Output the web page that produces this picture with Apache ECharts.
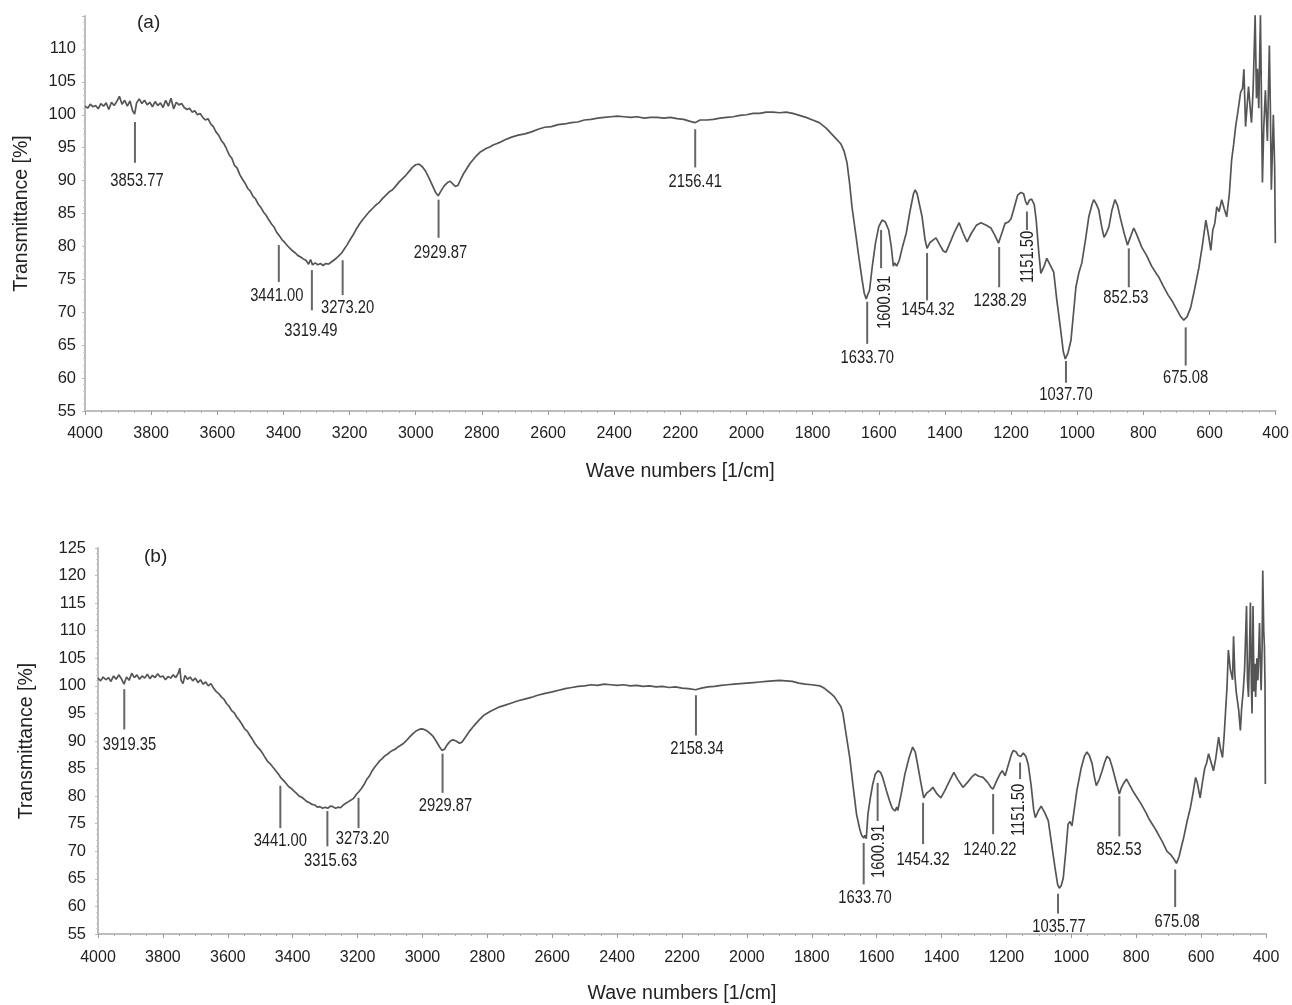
<!DOCTYPE html>
<html>
<head>
<meta charset="utf-8">
<script src="https://cdn.jsdelivr.net/npm/echarts@6/dist/echarts.min.js"></script>
<style>
html,body{margin:0;padding:0;background:#fff;}
#chart{width:1292px;height:1005px;}
</style>
</head>
<body>
<div id="chart"></div>
<script>
// ---------------- DATA ----------------
// Spectrum (a): [wavenumber, transmittance %]
const spectrumA = [
[4000,101.3],[3992,101.0],[3984,101.6],[3976,101.2],[3968,101.4],[3960,100.9],[3952,101.7],[3944,101.3],[3936,101.8],[3928,100.8],
[3920,101.9],[3912,101.4],[3904,102.0],[3896,102.8],[3888,101.6],[3880,102.2],[3872,101.3],[3864,102.1],[3856,100.6],[3850,100.1],
[3844,101.8],[3836,102.4],[3828,101.7],[3820,102.2],[3812,101.5],[3804,101.9],[3796,101.2],[3788,102.0],[3780,101.4],[3772,101.8],
[3764,101.1],[3756,102.2],[3748,101.3],[3740,102.5],[3732,100.9],[3724,101.9],[3716,101.5],[3708,101.7],[3700,101.1],[3692,100.8],
[3684,101.0],[3676,100.4],[3668,100.6],[3660,100.0],[3652,100.2],[3644,99.6],[3636,99.2],[3628,99.4],[3620,98.6],[3612,98.2],
[3604,97.4],[3596,96.9],[3588,96.1],[3580,95.6],[3572,94.8],[3564,93.9],[3556,93.4],[3548,92.3],[3540,91.9],[3532,90.9],
[3524,90.2],[3516,89.6],[3508,88.8],[3500,88.4],[3492,87.6],[3484,87.2],[3476,86.4],[3468,85.9],[3460,85.2],[3452,84.7],
[3444,84.0],[3436,83.4],[3428,82.9],[3420,82.1],[3412,81.6],[3404,81.0],[3396,80.6],[3388,80.1],[3380,79.7],[3372,79.3],
[3364,79.0],[3356,78.6],[3348,78.4],[3340,78.1],[3332,77.9],[3324,77.3],[3318,78.0],[3312,77.2],[3304,77.5],[3296,77.2],
[3288,77.4],[3280,77.1],[3272,77.4],[3264,77.3],[3256,77.6],[3248,77.9],[3240,78.2],[3232,78.6],[3224,79.0],[3216,79.6],
[3208,80.2],[3200,80.9],[3190,81.7],[3180,82.6],[3170,83.4],[3160,84.1],[3150,84.7],[3140,85.3],[3130,85.8],[3120,86.3],
[3110,86.7],[3100,87.3],[3090,87.8],[3080,88.3],[3070,88.6],[3060,89.2],[3050,89.8],[3040,90.3],[3030,90.8],[3020,91.4],
[3010,92.0],[3000,92.4],[2990,92.5],[2980,92.1],[2970,91.4],[2960,90.4],[2950,89.3],[2940,88.2],[2932,87.7],[2924,88.4],
[2914,89.2],[2904,89.7],[2896,89.9],[2888,89.5],[2880,89.1],[2872,89.3],[2864,90.2],[2856,91.0],[2846,91.8],[2836,92.6],
[2826,93.2],[2816,93.8],[2806,94.3],[2796,94.6],[2786,94.9],[2776,95.1],[2766,95.4],[2756,95.6],[2746,95.8],[2730,96.2],
[2710,96.6],[2690,96.9],[2670,97.1],[2650,97.4],[2630,97.8],[2610,98.1],[2590,98.2],[2570,98.5],[2550,98.6],[2530,98.8],
[2510,98.9],[2490,99.2],[2470,99.3],[2450,99.5],[2430,99.6],[2410,99.7],[2390,99.8],[2370,99.7],[2350,99.6],[2330,99.7],
[2310,99.5],[2290,99.6],[2270,99.6],[2250,99.5],[2230,99.6],[2210,99.4],[2190,99.3],[2170,99.0],[2156,98.8],[2140,99.2],
[2120,99.2],[2100,99.3],[2080,99.5],[2060,99.6],[2040,99.7],[2020,99.9],[2000,100.0],[1980,100.2],[1960,100.2],[1940,100.4],
[1920,100.4],[1900,100.3],[1880,100.4],[1860,100.2],[1840,99.9],[1820,99.6],[1800,99.2],[1780,98.8],[1760,98.0],[1745,97.2],
[1730,96.4],[1715,95.6],[1705,94.5],[1696,92.7],[1688,89.5],[1681,86.0],[1670,82.0],[1659,77.9],[1650,74.8],[1644,72.9],
[1638,72.0],[1634,72.6],[1628,73.3],[1620,76.8],[1610,80.5],[1600,83.0],[1590,84.0],[1580,83.7],[1570,82.5],[1562,79.9],
[1556,77.0],[1552,77.5],[1546,77.0],[1538,77.9],[1528,80.0],[1517,82.0],[1505,85.5],[1495,88.0],[1490,88.6],[1484,88.0],
[1469,84.5],[1460,81.0],[1454,79.7],[1445,80.6],[1435,81.0],[1427,81.3],[1415,80.2],[1405,79.3],[1397,79.1],[1385,80.5],
[1370,82.3],[1357,83.6],[1345,82.0],[1333,80.7],[1320,82.0],[1305,83.2],[1291,83.6],[1275,83.2],[1261,82.8],[1250,81.8],
[1238,80.5],[1228,82.0],[1218,83.5],[1208,83.7],[1200,84.2],[1190,86.0],[1180,87.8],[1170,88.2],[1162,88.0],[1156,86.8],
[1151,86.3],[1145,87.0],[1138,87.2],[1130,86.4],[1124,84.0],[1116,79.0],[1110,75.9],[1100,77.0],[1092,78.2],[1082,77.2],
[1071,76.1],[1062,72.0],[1051,67.7],[1042,64.0],[1036,62.9],[1028,63.8],[1019,65.7],[1010,70.5],[1004,73.8],[995,76.0],
[986,77.5],[975,81.0],[965,84.5],[955,86.4],[950,87.1],[942,86.4],[935,85.6],[926,83.0],[919,81.4],[912,82.0],
[904,83.0],[895,85.5],[886,87.1],[878,86.2],[868,84.0],[858,82.0],[848,80.2],[842,80.4],[835,82.0],[829,82.8],
[820,81.8],[805,79.9],[790,78.6],[775,77.0],[760,75.8],[753,75.3],[740,74.0],[725,72.6],[714,71.8],[700,70.5],
[688,69.4],[678,68.8],[668,69.3],[657,70.7],[645,73.5],[632,76.8],[622,80.0],[611,84.0],[604,82.0],[596,79.4],
[590,82.5],[584,83.5],[578,86.0],[571,85.3],[563,87.1],[556,85.8],[548,84.5],[540,88.0],[533,93.2],[527,95.5],
[521,98.2],[514,100.5],[506,103.4],[500,104.0],[496,106.9],[491,98.2],[486,101.6],[482,104.3],[477,101.0],[473,98.8],
[468,104.0],[462,115.2],[458,102.5],[455,107.0],[451,101.0],[446,115.2],[440,89.7],[436,98.0],[431,103.7],[425,96.0],
[419,110.5],[416,101.0],[413,88.6],[407,100.0],[403,92.0],[401,80.5]
];

// Spectrum (b): [wavenumber, transmittance %]
const spectrumB = [
[4000,101.4],[3992,100.9],[3984,101.6],[3976,101.1],[3968,101.5],[3960,100.8],[3952,101.8],[3944,101.2],[3936,102.0],[3928,101.3],
[3920,100.3],[3912,101.6],[3904,101.0],[3896,102.3],[3888,101.5],[3880,102.0],[3872,101.2],[3864,101.8],[3856,101.4],[3848,102.1],
[3840,101.3],[3832,101.9],[3824,101.5],[3816,102.2],[3808,101.6],[3800,101.8],[3792,101.1],[3784,101.7],[3776,101.4],[3768,102.0],
[3760,101.5],[3752,102.4],[3748,103.2],[3744,101.0],[3738,100.4],[3732,101.9],[3724,101.2],[3716,101.6],[3708,100.9],[3700,101.4],
[3692,100.6],[3684,101.1],[3676,100.3],[3668,100.7],[3660,100.0],[3652,100.4],[3644,99.6],[3636,99.0],[3628,98.6],[3620,98.0],
[3612,97.6],[3604,96.8],[3596,96.3],[3588,95.5],[3580,95.1],[3572,94.3],[3564,93.7],[3556,93.0],[3548,92.2],[3540,91.8],
[3532,91.0],[3524,90.3],[3516,89.5],[3508,88.9],[3500,88.4],[3492,87.7],[3484,86.9],[3476,86.2],[3468,85.8],[3460,85.2],
[3452,84.6],[3444,84.0],[3436,83.3],[3428,82.8],[3420,82.3],[3412,81.7],[3404,81.4],[3396,80.9],[3388,80.5],[3380,80.0],
[3372,79.8],[3364,79.4],[3356,79.0],[3348,78.8],[3340,78.5],[3332,78.4],[3324,78.0],[3316,78.1],[3308,77.8],[3300,78.0],
[3292,77.8],[3284,78.2],[3276,78.1],[3268,77.8],[3260,78.0],[3252,77.9],[3244,78.4],[3236,78.7],[3228,79.0],[3220,79.3],
[3212,79.6],[3204,80.3],[3196,80.8],[3188,81.4],[3180,82.1],[3172,83.0],[3164,83.6],[3156,84.5],[3148,85.2],[3140,85.8],
[3132,86.4],[3124,86.8],[3116,87.3],[3108,87.6],[3100,88.0],[3092,88.3],[3084,88.5],[3076,88.9],[3068,89.2],[3060,89.5],
[3049,90.1],[3040,90.7],[3030,91.3],[3020,91.8],[3010,92.1],[3003,92.2],[2995,92.1],[2985,91.8],[2975,91.3],[2968,90.9],
[2958,90.0],[2948,89.0],[2940,88.3],[2932,88.5],[2924,89.3],[2914,90.0],[2906,90.2],[2896,90.0],[2886,89.6],[2878,89.8],
[2866,90.8],[2856,91.7],[2845,92.5],[2835,93.2],[2822,94.0],[2812,94.6],[2802,95.0],[2790,95.4],[2776,95.8],[2762,96.2],
[2745,96.5],[2725,96.9],[2705,97.3],[2685,97.6],[2665,97.9],[2645,98.3],[2625,98.6],[2600,98.9],[2580,99.2],[2560,99.5],
[2540,99.7],[2520,99.9],[2500,100.0],[2480,100.2],[2460,100.1],[2440,100.3],[2420,100.2],[2400,100.1],[2380,100.2],[2360,100.0],
[2340,100.1],[2320,99.9],[2300,100.0],[2280,99.8],[2260,99.9],[2240,99.7],[2220,99.8],[2200,99.6],[2180,99.5],[2158,99.3],
[2140,99.6],[2120,99.8],[2100,99.9],[2080,100.1],[2060,100.2],[2040,100.3],[2020,100.4],[2000,100.5],[1980,100.6],[1960,100.7],
[1940,100.8],[1920,100.9],[1900,101.0],[1880,100.9],[1860,100.8],[1840,100.5],[1820,100.3],[1800,100.2],[1775,100.0],[1760,99.5],
[1745,98.8],[1730,98.0],[1720,97.1],[1710,96.2],[1704,95.0],[1695,91.5],[1683,87.0],[1672,81.5],[1662,76.7],[1652,74.0],
[1647,73.0],[1640,72.4],[1636,72.9],[1632,72.3],[1627,76.7],[1620,79.5],[1612,82.2],[1604,84.0],[1596,84.6],[1588,84.3],
[1581,83.3],[1570,81.0],[1560,79.1],[1552,77.8],[1544,77.3],[1538,78.0],[1535,77.4],[1524,80.5],[1513,84.0],[1500,87.0],
[1489,88.9],[1481,88.0],[1474,85.8],[1464,82.5],[1455,79.7],[1445,80.6],[1436,81.0],[1427,81.6],[1414,80.4],[1402,79.7],
[1390,81.0],[1375,82.8],[1362,84.3],[1350,83.0],[1334,81.6],[1320,82.5],[1305,83.6],[1297,84.0],[1285,83.6],[1272,83.4],
[1258,82.5],[1248,81.6],[1241,81.3],[1230,82.8],[1220,84.0],[1213,84.6],[1204,83.7],[1195,85.5],[1185,87.5],[1179,88.3],
[1170,88.0],[1164,87.4],[1156,87.2],[1148,87.8],[1140,87.2],[1133,85.8],[1124,82.0],[1116,77.5],[1111,76.1],[1102,77.3],
[1093,78.2],[1082,77.0],[1071,75.5],[1060,71.0],[1050,66.9],[1042,63.9],[1037,63.3],[1031,63.8],[1025,65.1],[1017,70.0],
[1010,74.9],[1004,75.4],[998,74.6],[990,78.0],[983,81.0],[970,85.0],[960,87.2],[952,88.0],[944,87.3],[936,85.9],
[929,83.5],[923,81.9],[914,83.0],[905,84.6],[897,86.2],[890,87.2],[882,86.8],[874,85.3],[863,82.8],[852,80.4],
[846,81.5],[838,82.4],[830,83.1],[820,82.0],[808,80.7],[797,79.7],[785,78.6],[770,77.0],[760,75.8],[747,74.6],
[735,73.4],[720,71.8],[705,70.0],[694,69.4],[684,68.6],[676,67.8],[668,69.0],[660,71.0],[654,72.4],[643,75.5],
[633,77.9],[625,80.5],[617,83.4],[612,82.5],[603,79.7],[596,82.5],[589,85.0],[583,86.0],[577,87.7],[570,86.3],
[562,84.6],[555,86.8],[546,90.7],[540,88.5],[534,87.0],[529,91.0],[525,95.0],[520,100.0],[516,106.5],[510,103.0],
[503,101.1],[500,109.0],[496,102.0],[492,99.0],[488,99.2],[484,95.5],[479,91.9],[475,96.0],[470,99.2],[466,103.0],
[460,114.5],[457,101.0],[454,98.0],[451,106.0],[448,115.1],[445,100.0],[443,95.0],[440,114.5],[437,99.0],[434,104.0],
[432,98.0],[428,105.0],[425,101.0],[420,111.4],[417,103.0],[415,99.2],[412,107.0],[410,120.9],[407,110.0],[405,107.4],
[403,100.0],[402,82.2]
];

// Peak annotations (a): label text, marker line [wavenumber, T top, T bottom], text anchor [wavenumber, T]
const peakLabelsA = ['3853.77','3441.00','3319.49','3273.20','2929.87','2156.41','1633.70','1600.91','1454.32','1238.29','1151.50','1037.70','852.53','675.08'];
const peakLinesA = [[3849,98.9,92.7],[3414,80.2,74.6],[3314,76.4,70.3],[3221,77.9,72.6],[2931,87.1,81.3],[2155,97.8,92.0],[1635,71.6,65.2],[1593,82.5,76.7],[1454,79.0,71.8],[1236,79.9,73.8],[1152,85.3,82.5],[1034,62.6,59.3],[844,79.7,73.8],[672,67.7,61.9]];
const peakTextA = [[3843,90.0],[3420,72.4],[3317,67.2],[3206,70.7],[2925,79.0],[2155,89.8],[1635,63.1],[1581,71.5],[1451,70.4],[1233,71.7],[1149,78.4],[1034,57.4],[853,72.1],[672,60.0]];

// Peak annotations (b)
const peakLabelsB = ['3919.35','3441.00','3315.63','3273.20','2929.87','2158.34','1633.70','1600.91','1454.32','1240.22','1151.50','1035.77','852.53','675.08'];
const peakLinesB = [[3919,99.4,92.1],[3438,81.9,74.2],[3293,77.3,70.9],[3197,79.7,74.2],[2938,87.7,80.6],[2157,98.3,91.0],[1640,71.5,64.0],[1597,82.4,75.5],[1457,78.8,71.3],[1241,80.4,73.1],[1158,86.1,83.1],[1041,62.3,58.7],[852,80.0,72.7],[680,66.7,59.9]];
const peakTextB = [[3903,89.2],[3438,71.8],[3283,68.2],[3185,72.2],[2929,78.2],[2154,88.6],[1636,61.6],[1593,70.0],[1457,68.5],[1251,70.2],[1161,77.5],[1038,56.3],[853,70.2],[674,57.2]];

const verticalLabels = ['1600.91', '1151.50'];
const panelTitles = ['(a)', '(b)'];
const xAxisTitle = 'Wave numbers [1/cm]';
const yAxisTitle = 'Transmittance [%]';

// ---------------- CHART ----------------
const FONT = "'Liberation Sans', Arial, sans-serif";
const TEXT = '#222';
const AXIS = '#bdbdbd';

const chart = echarts.init(document.getElementById('chart'), null, {renderer: 'canvas'});

function xAxisCfg(gridIndex, margin, nameGap) {
  return {
    type: 'value', gridIndex: gridIndex, inverse: true,
    min: 400, max: 4000, interval: 200,
    name: xAxisTitle, nameLocation: 'middle', nameGap: nameGap,
    nameTextStyle: {fontFamily: FONT, fontSize: 19.5, color: TEXT},
    axisLine: {show: true, onZero: false, lineStyle: {color: AXIS, width: 2}},
    axisTick: {show: true, length: 4, lineStyle: {color: '#999'}},
    minorTick: {show: true, splitNumber: 4, length: 2, lineStyle: {color: '#aaa'}},
    axisLabel: {fontFamily: FONT, fontSize: 16, color: TEXT, margin: margin, showMinLabel: true, showMaxLabel: true,
                formatter: function (v) { return String(v); }},
    splitLine: {show: false}, minorSplitLine: {show: false}
  };
}
function yAxisCfg(gridIndex, max, showMax, margin, nameGap) {
  return {
    type: 'value', gridIndex: gridIndex,
    min: 55, max: max, interval: 5,
    name: yAxisTitle, nameLocation: 'middle', nameGap: nameGap, nameRotate: 90,
    nameTextStyle: {fontFamily: FONT, fontSize: 19.5, color: TEXT},
    axisLine: {show: true, lineStyle: {color: AXIS, width: 2}},
    axisTick: {show: true, length: 3, lineStyle: {color: '#bbb'}},
    minorTick: {show: true, splitNumber: 5, length: 2, lineStyle: {color: '#ccc'}},
    axisLabel: {fontFamily: FONT, fontSize: 16.5, color: TEXT, margin: margin, showMaxLabel: showMax,
                formatter: function (v) { return String(v); }},
    splitLine: {show: false}
  };
}

function markerLines(xi, yi, lines) {
  return {
    type: 'custom', xAxisIndex: xi, yAxisIndex: yi, clip: false, silent: true, z: 3,
    data: lines,
    renderItem: function (params, api) {
      const p1 = api.coord([api.value(0), api.value(1)]);
      const p2 = api.coord([api.value(0), api.value(2)]);
      return {type: 'line', shape: {x1: p1[0], y1: p1[1], x2: p2[0], y2: p2[1]},
              style: {stroke: '#666', lineWidth: 2}};
    }
  };
}
function markerTexts(xi, yi, anchors, labels) {
  return {
    type: 'custom', xAxisIndex: xi, yAxisIndex: yi, clip: false, silent: true, z: 4,
    data: anchors,
    renderItem: function (params, api) {
      const p = api.coord([api.value(0), api.value(1)]);
      const txt = labels[params.dataIndex];
      const vert = verticalLabels.indexOf(txt) >= 0;
      return {type: 'text', x: p[0], y: p[1], rotation: vert ? Math.PI / 2 : 0,
              scaleX: 0.82, scaleY: 1,
              style: {text: txt, fill: TEXT, font: '18px ' + FONT, align: 'center', verticalAlign: 'middle'}};
    }
  };
}

const lineStyle = {color: '#555', width: 1.7};

const option = {
  animation: false,
  backgroundColor: '#fff',
  grid: [
    {left: 85, right: 15, top: 16, height: 395},
    {left: 98, right: 26, top: 548, height: 387}
  ],
  xAxis: [xAxisCfg(0, 15, 51), xAxisCfg(1, 16, 50)],
  yAxis: [yAxisCfg(0, 115, false, 9, 53), yAxisCfg(1, 125, true, 12, 61)],
  graphic: [
    {type: 'text', left: 137, top: 13, style: {text: panelTitles[0], font: '19px ' + FONT, fill: TEXT}},
    {type: 'text', left: 144, top: 547, style: {text: panelTitles[1], font: '19px ' + FONT, fill: TEXT}}
  ],
  series: [
    {type: 'line', xAxisIndex: 0, yAxisIndex: 0, data: spectrumA, showSymbol: false, symbol: 'none', smooth: false, lineStyle: lineStyle, z: 2},
    {type: 'line', xAxisIndex: 1, yAxisIndex: 1, data: spectrumB, showSymbol: false, symbol: 'none', smooth: false, lineStyle: lineStyle, z: 2},
    markerLines(0, 0, peakLinesA),
    markerLines(1, 1, peakLinesB),
    markerTexts(0, 0, peakTextA, peakLabelsA),
    markerTexts(1, 1, peakTextB, peakLabelsB)
  ]
};
chart.setOption(option);
</script>
</body>
</html>
